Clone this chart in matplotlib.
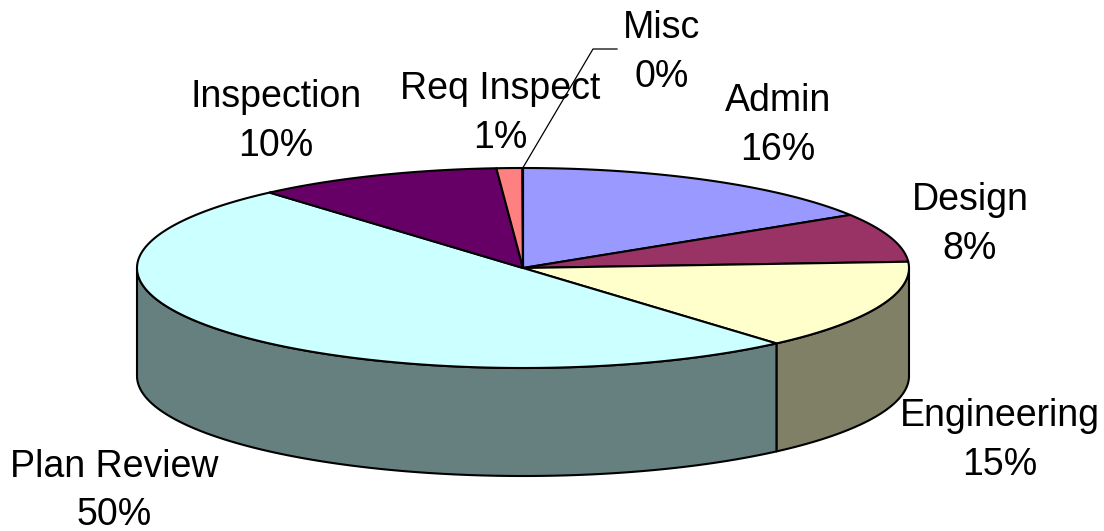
import numpy as np
import matplotlib
matplotlib.use("Agg")
import matplotlib.pyplot as plt
from matplotlib.patches import Polygon

plt.rcParams['font.family'] = ['Liberation Sans', 'DejaVu Sans']

# slices, clockwise from 12 o'clock
categories = ["Admin", "Design", "Engineering", "Plan Review", "Inspection", "Req Inspect", "Misc"]
values = [16.1, 7.9, 14.6, 50.0, 10.3, 1.08, 0.02]
pct_labels = ["16%", "8%", "15%", "50%", "10%", "1%", "0%"]
top_colors = ["#9999FF", "#993366", "#FFFFCC", "#CCFFFF", "#660066", "#FF8080", "#0066CC"]
side_colors = ["#4C4C80", "#4C1933", "#808066", "#668080", "#330033", "#804040", "#003366"]

# label centre in pixels
label_pos = [(778, 125.5), (970, 224.5), (1000, 440.5), (114, 491), (276, 121.5), (500, 113.5), (662, 52.5)]

W, H = 1104, 531
CX, CY, RX, RY, DEPTH = 523, 268, 386, 100, 108

fig = plt.figure(figsize=(W / 100, H / 100), dpi=100)
ax = fig.add_axes([0, 0, 1, 1])
ax.set_xlim(0, W)
ax.set_ylim(H, 0)
ax.axis('off')


def rim(a0, a1, dy=0):
    # points on the ellipse, angles in degrees clockwise from the top
    t = np.radians(np.linspace(a0, a1, max(int(abs(a1 - a0) * 2), 2)))
    return np.column_stack([CX + RX * np.sin(t), CY - RY * np.cos(t) + dy])


edges = np.concatenate([[0], np.cumsum(values) / np.sum(values) * 360])

# side walls first: only the front half of the rim (90 to 270 deg) shows
for i in range(len(values)):
    a0, a1 = max(edges[i], 90), min(edges[i + 1], 270)
    if a1 <= a0:
        continue
    pts = np.vstack([rim(a0, a1), rim(a0, a1, DEPTH)[::-1]])
    ax.add_patch(Polygon(pts, closed=True, fc=side_colors[i], ec='black', lw=1.5, joinstyle='round'))

# top faces
for i in range(len(values)):
    pts = np.vstack([[CX, CY], rim(edges[i], edges[i + 1])])
    ax.add_patch(Polygon(pts, closed=True, fc=top_colors[i], ec='black', lw=1.5, joinstyle='round'))

# leader line for Misc
mid = np.radians((edges[-2] + edges[-1]) / 2)
start = (CX + RX * np.sin(mid), CY - RY * np.cos(mid))
ax.plot([start[0], 593, 617], [start[1], 49, 49], color='black', lw=0.9)

for name, pct, (x, y) in zip(categories, pct_labels, label_pos):
    ax.text(x, y, f"{name}\n{pct}", ha='center', va='center', fontsize=27, color='black', linespacing=1.46)

fig.savefig("out.png", dpi=100)
